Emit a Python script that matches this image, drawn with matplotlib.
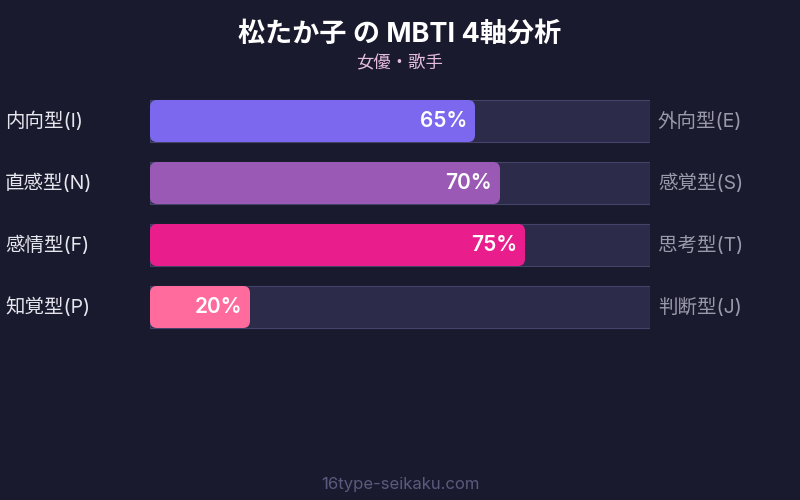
import matplotlib
matplotlib.use("Agg")
import matplotlib.pyplot as plt
from matplotlib.patches import FancyBboxPatch, Rectangle

plt.rcParams["font.family"] = ["Inter", "Noto Sans CJK JP", "DejaVu Sans"]

# ── data ──────────────────────────────────────────────
title = "松たか子 の MBTI 4軸分析"
subtitle = "女優・歌手"
footer = "16type-seikaku.com"
left_labels = ["内向型(I)", "直感型(N)", "感情型(F)", "知覚型(P)"]
right_labels = ["外向型(E)", "感覚型(S)", "思考型(T)", "判断型(J)"]
values = [65, 70, 75, 20]
colors = ["#7b68ee", "#9b59b6", "#e91e8c", "#ff6b9d"]

BG = "#1a1a2e"
TRACK = "#2d2b4a"
TRACK_EDGE = "#45436a"

W, H = 800, 500
fig = plt.figure(figsize=(W / 100, H / 100), dpi=100)
fig.patch.set_facecolor(BG)

# bar area: x 150..650 px, rows of 62 px starting at y=90
ax_left, ax_w = 150, 500
ax_top, row_h = 90, 62
n = len(values)
ax = fig.add_axes([ax_left / W, 1 - (ax_top + n * row_h) / H,
                   ax_w / W, n * row_h / H])
ax.set_xlim(0, 100)
ax.set_ylim(n - 0.5, -0.5)
ax.axis("off")

bar_h = 42 / row_h
px_x = 100 / ax_w          # x units per pixel
px_y = 1 / row_h           # y units per pixel
aspect = px_y / px_x
radius = 7 * px_x

for i, (v, c) in enumerate(zip(values, colors)):
    y0 = i - bar_h / 2
    ax.add_patch(Rectangle((0, y0), 100, bar_h, facecolor=TRACK,
                           edgecolor=TRACK_EDGE, linewidth=0.8))
    ax.add_patch(FancyBboxPatch((0, y0), v, bar_h,
                                boxstyle=f"round,pad=0,rounding_size={radius}",
                                mutation_aspect=aspect,
                                facecolor=c, edgecolor="none"))
    ax.text(v - 8 * px_x, i, f"{v}%", ha="right", va="center",
            color="white", fontsize=15, fontweight="semibold")

# side labels
for i, (l, r) in enumerate(zip(left_labels, right_labels)):
    yc = 1 - (ax_top + (i + 0.5) * row_h) / H
    fig.text(5 / W, yc, l, ha="left", va="center", color="#e6e6ee", fontsize=14)
    fig.text(658 / W, yc, r, ha="left", va="center", color="#9a9aaa", fontsize=14)

fig.text(0.5, 1 - 35 / H, title, ha="center", va="center",
         color="white", fontsize=19.5, fontweight="bold")
fig.text(0.5, 1 - 64 / H, subtitle, ha="center", va="center",
         color="#e6bde0", fontsize=12.5)
fig.text(0.5, 1 - 484 / H, footer, ha="center", va="center",
         color="#5a5a7e", fontsize=12)

fig.savefig("out.png", dpi=100, facecolor=BG)
